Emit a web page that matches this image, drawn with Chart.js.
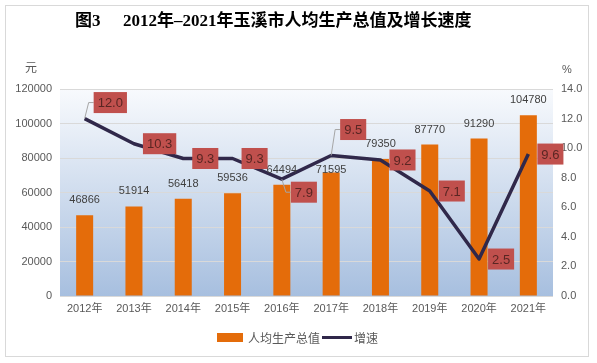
<!DOCTYPE html>
<html lang="zh-CN">
<head>
<meta charset="UTF-8">
<title>玉溪市人均生产总值及增长速度</title>
<script src="https://cdn.jsdelivr.net/npm/chart.js"></script>
<style>
  html, body { margin: 0; padding: 0; background: #fff; }
</style>
</head>
<body>
<canvas id="chart" width="597" height="363"></canvas>
<script>
  const years = ['2012年', '2013年', '2014年', '2015年', '2016年', '2017年', '2018年', '2019年', '2020年', '2021年'];
  const gdpPerCapita = [46866, 51914, 56418, 59536, 64494, 71595, 79350, 87770, 91290, 104780];
  const growthRate = [12.0, 10.3, 9.3, 9.3, 7.9, 9.5, 9.2, 7.1, 2.5, 9.6];
  const leftTicks = [0, 20000, 40000, 60000, 80000, 100000, 120000];
  const rightTicks = [0, 2, 4, 6, 8, 10, 12, 14];

  // label nudges (px, vertical) so labels dodge the line
  const rateLabelShift = [-16, 0, 0, 0, 13, -26, 0, 0, 0, 0];
  const barLabelShift = [0, 0, 0, 0, 0, 12, 0, 0, 0, 0];

  const ORANGE = '#E46C0A';
  const NAVY = '#30284A';
  const AXIS_TXT = '#595959';
  const FONT = '"Liberation Sans", "Noto Sans CJK SC", sans-serif';
  const CJK = '"Noto Sans CJK SC", sans-serif';

  const decor = {
    id: 'decor',
    beforeDraw(chart) {
      const { ctx, chartArea: a } = chart;
      ctx.save();
      ctx.fillStyle = '#fff';
      ctx.fillRect(0, 0, chart.width, chart.height);
      const g = ctx.createLinearGradient(0, a.top, 0, a.bottom);
      g.addColorStop(0, '#F8FAFD');
      g.addColorStop(1, '#A7BFDF');
      ctx.fillStyle = g;
      ctx.fillRect(a.left, a.top, a.right - a.left, a.bottom - a.top);
      ctx.restore();
    },
    afterDatasetsDraw(chart) {
      const { ctx } = chart;
      ctx.save();
      // bar value labels
      const bars = chart.getDatasetMeta(1).data;
      ctx.font = '11px ' + FONT;
      ctx.fillStyle = '#404040';
      ctx.textAlign = 'center';
      ctx.textBaseline = 'middle';
      bars.forEach((b, i) => ctx.fillText(String(gdpPerCapita[i]), b.x, b.y - 15 + barLabelShift[i]));

      // growth-rate labels
      const pts = chart.getDatasetMeta(0).data;
      ctx.font = '13px ' + FONT;
      pts.forEach((p, i) => {
        const txt = growthRate[i].toFixed(1);
        const w = ctx.measureText(txt).width + 8;
        const h = 21;
        const left = p.x + 9;
        const cy = p.y + rateLabelShift[i];
        if (rateLabelShift[i] !== 0) {
          ctx.strokeStyle = '#A6A6A6';
          ctx.lineWidth = 1;
          ctx.beginPath();
          ctx.moveTo(p.x, p.y);
          ctx.lineTo(p.x + 4, cy);
          ctx.lineTo(left, cy);
          ctx.stroke();
        }
        ctx.fillStyle = '#C0504D';
        ctx.fillRect(left, cy - h / 2, w, h);
        ctx.fillStyle = '#5A2623';
        ctx.textAlign = 'left';
        ctx.fillText(txt, left + 4, cy + 1);
      });
      ctx.restore();
    },
    afterDraw(chart) {
      const { ctx } = chart;
      ctx.save();
      // frame
      ctx.strokeStyle = '#D9D9D9';
      ctx.lineWidth = 1;
      ctx.strokeRect(5.5, 5.5, 583, 351);

      // title
      ctx.fillStyle = '#000';
      ctx.textBaseline = 'middle';
      ctx.textAlign = 'left';
      ctx.font = 'bold 17px "Liberation Serif", "Noto Sans CJK SC", serif';
      ctx.fillText('图3', 75, 22);
      ctx.fillText('2012年–2021年玉溪市人均生产总值及增长速度', 123, 22);

      // units
      ctx.fillStyle = AXIS_TXT;
      ctx.font = '12px ' + CJK;
      ctx.textAlign = 'center';
      ctx.fillText('元', 31, 67);
      ctx.font = '11px ' + FONT;
      ctx.fillText('%', 567, 70);

      // legend
      ctx.fillStyle = ORANGE;
      ctx.fillRect(217, 333, 26, 9);
      ctx.fillStyle = AXIS_TXT;
      ctx.font = '12px ' + CJK;
      ctx.textAlign = 'left';
      ctx.fillText('人均生产总值', 248, 338);
      ctx.strokeStyle = NAVY;
      ctx.lineWidth = 3;
      ctx.beginPath();
      ctx.moveTo(322, 337.5);
      ctx.lineTo(352, 337.5);
      ctx.stroke();
      ctx.fillText('增速', 354, 338);
      ctx.restore();
    }
  };

  new Chart(document.getElementById('chart'), {
    data: {
      labels: years,
      datasets: [
        {
          type: 'line',
          label: '增速',
          data: growthRate,
          yAxisID: 'y1',
          borderColor: NAVY,
          borderWidth: 3.5,
          borderJoinStyle: 'round',
          pointRadius: 0,
          tension: 0,
          order: 0
        },
        {
          type: 'bar',
          label: '人均生产总值',
          data: gdpPerCapita,
          yAxisID: 'y',
          backgroundColor: ORANGE,
          barPercentage: 0.345,
          categoryPercentage: 1,
          order: 1
        }
      ]
    },
    options: {
      responsive: false,
      animation: false,
      devicePixelRatio: 1,
      layout: { padding: { top: 89, bottom: 37, left: 0, right: 0 } },
      plugins: { legend: { display: false }, tooltip: { enabled: false } },
      scales: {
        x: {
          grid: { display: false, drawTicks: false },
          border: { display: false },
          ticks: { color: AXIS_TXT, font: { size: 11, family: FONT }, padding: 6, maxRotation: 0 },
          afterFit(s) { s.height = 30; }
        },
        y: {
          position: 'left',
          min: leftTicks[0],
          max: leftTicks[leftTicks.length - 1],
          afterBuildTicks(s) { s.ticks = leftTicks.map(v => ({ value: v })); },
          grid: { color: '#D9D9D9', drawTicks: false },
          border: { display: false },
          ticks: {
            color: AXIS_TXT, font: { size: 11, family: FONT }, padding: 8,
            callback: v => String(v)
          },
          afterFit(s) { s.width = 60; }
        },
        y1: {
          position: 'right',
          min: rightTicks[0],
          max: rightTicks[rightTicks.length - 1],
          afterBuildTicks(s) { s.ticks = rightTicks.map(v => ({ value: v })); },
          grid: { drawOnChartArea: false, drawTicks: false },
          border: { display: false },
          ticks: {
            color: AXIS_TXT, font: { size: 11, family: FONT }, padding: 8,
            callback: v => Number(v).toFixed(1)
          },
          afterFit(s) { s.width = 44; }
        }
      }
    },
    plugins: [decor]
  });
</script>
</body>
</html>
